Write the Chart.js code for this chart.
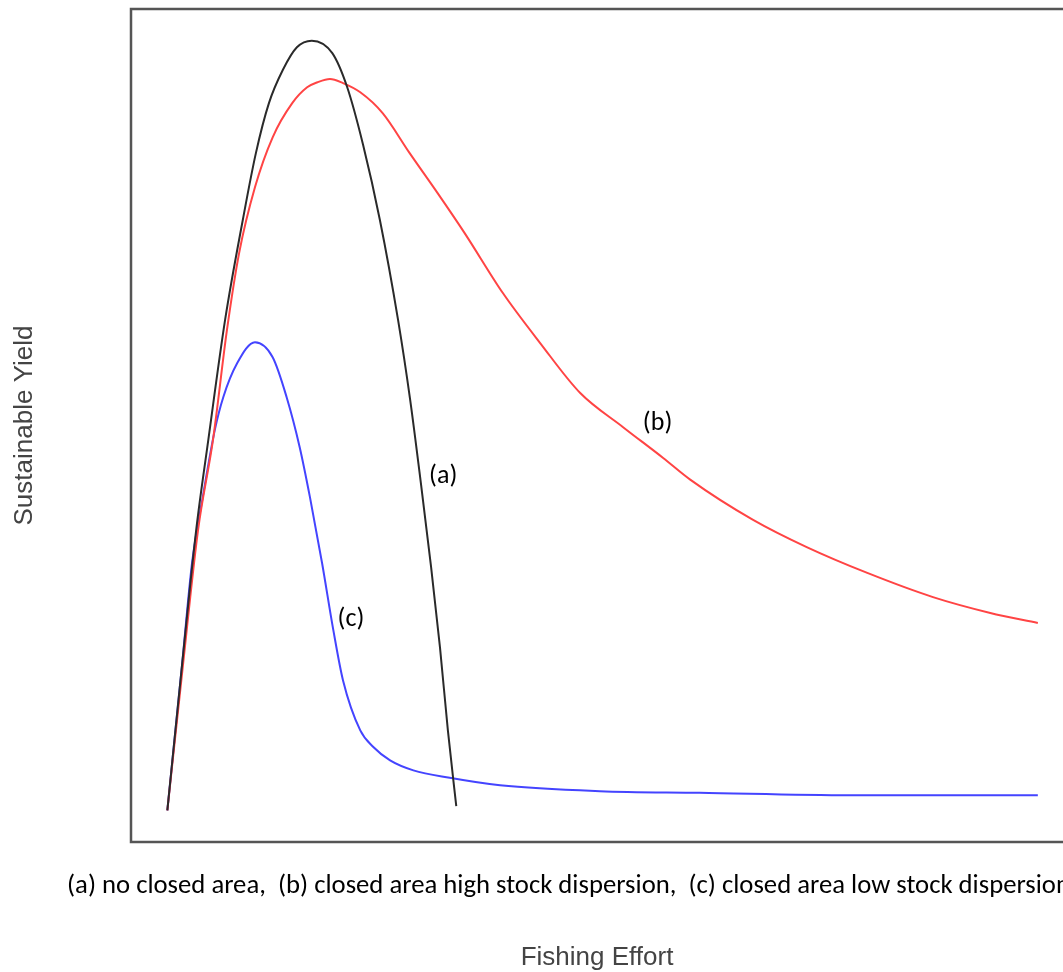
<!DOCTYPE html>
<html>
<head>
<meta charset="utf-8">
<script src="https://cdn.jsdelivr.net/npm/chart.js@4.4.1/dist/chart.umd.min.js"></script>
<style>
  html, body { margin: 0; padding: 0; background: #ffffff; overflow: hidden; }
  #wrap { width: 1063px; height: 972px; position: relative; }
</style>
</head>
<body>
<div id="wrap"><canvas id="c" width="1063" height="972"></canvas></div>
<script>
// Fishing effort (x) and sustainable yield (y)
const effortA = [3.9, 5.5, 7.0, 8.3, 10.1, 12.0, 13.4, 14.8, 16.3, 17.8, 19.4, 21.6, 23.2, 24.9, 26.7, 28.65, 29.95, 31.1, 32.2, 33.15, 34.0, 34.9];
const yieldA  = [3.8, 21.5, 37.5, 48.3, 62.7, 74.7, 82.7, 88.7, 92.7, 95.4, 96.2, 94.7, 90.6, 83.7, 74.7, 62.7, 53.1, 43.1, 33.0, 23.4, 13.4, 4.3];

const effortB = [3.9, 5.6, 7.2, 8.8, 10.3, 11.6, 13.3, 15.2, 17.3, 18.9, 20.0, 21.35, 22.75, 24.6, 27.0, 29.9, 32.9, 35.8, 39.9, 43.9, 48.2, 52.8, 57.1, 60.0, 66.7, 72.5, 79.0, 86.05, 92.2, 97.3];
const yieldB  = [3.8, 21.5, 37.5, 48.3, 61.5, 70.7, 78.6, 84.6, 88.7, 90.6, 91.2, 91.6, 91.1, 90.0, 87.5, 82.7, 77.9, 73.1, 65.9, 59.9, 53.9, 49.8, 46.1, 43.5, 38.7, 35.4, 32.3, 29.4, 27.5, 26.3];

const effortC = [3.9, 5.5, 6.55, 7.7, 9.0, 9.9, 11.4, 13.3, 15.2, 16.7, 18.1, 19.2, 20.5, 21.7, 22.75, 24.6, 26.0, 27.8, 30.3, 34.2, 39.6, 50.3, 61.0, 77.2, 97.3];
const yieldC  = [3.8, 21.5, 33.5, 41.4, 49.5, 53.4, 57.5, 60.0, 58.2, 53.4, 47.4, 41.4, 33.5, 25.5, 19.4, 13.4, 11.4, 9.8, 8.6, 7.7, 6.8, 6.1, 5.9, 5.6, 5.6];

const curveLabels = ["(a)", "(b)", "(c)"];
const labelEffort = [33.5, 56.5, 23.6];
const labelYield  = [43.9, 50.2, 26.7];

const captionText = "(a) no closed area,  (b) closed area high stock dispersion,  (c) closed area low stock dispersion";
const xTitle = "Fishing Effort";
const yTitle = "Sustainable Yield";

const toPoints = (xs, ys) => xs.map((x, i) => ({ x: x, y: ys[i] }));

const annotPlugin = {
  id: 'annot',
  beforeDatasetsDraw(chart) {
    const { ctx, chartArea } = chart;
    ctx.save();
    ctx.strokeStyle = '#555555';
    ctx.lineWidth = 2.5;
    ctx.beginPath();
    ctx.moveTo(chart.width + 5, chartArea.top);
    ctx.lineTo(chartArea.left, chartArea.top);
    ctx.lineTo(chartArea.left, chartArea.bottom);
    ctx.lineTo(chart.width + 5, chartArea.bottom);
    ctx.stroke();
    ctx.restore();
  },
  afterDatasetsDraw(chart) {
    const { ctx, chartArea, scales } = chart;
    ctx.save();
    ctx.fillStyle = '#000000';
    ctx.font = '26px Carlito, Lato, "Open Sans", sans-serif';
    ctx.textAlign = 'center';
    ctx.textBaseline = 'middle';
    curveLabels.forEach((t, i) => {
      ctx.fillText(t, scales.x.getPixelForValue(labelEffort[i]), scales.y.getPixelForValue(labelYield[i]));
    });
    ctx.font = '26.7px Carlito, Lato, "Open Sans", sans-serif';
    ctx.textAlign = 'left';
    ctx.fillText(captionText, 67, chartArea.bottom + 44);
    ctx.restore();
  }
};

new Chart(document.getElementById('c'), {
  type: 'line',
  data: {
    datasets: [
      { label: '(a)', data: toPoints(effortA, yieldA), borderColor: '#2a2a2a', borderWidth: 2 },
      { label: '(b)', data: toPoints(effortB, yieldB), borderColor: '#ff4444', borderWidth: 2 },
      { label: '(c)', data: toPoints(effortC, yieldC), borderColor: '#4444ff', borderWidth: 2 }
    ]
  },
  options: {
    responsive: false,
    animation: false,
    events: [],
    layout: { padding: { top: 9, right: 0, left: 0, bottom: 0 } },
    elements: {
      point: { radius: 0 },
      line: { cubicInterpolationMode: 'monotone', fill: false }
    },
    plugins: { legend: { display: false }, tooltip: { enabled: false } },
    scales: {
      x: {
        type: 'linear', min: 0, max: 100,
        ticks: { display: false },
        grid: { display: false },
        border: { display: false },
        afterFit: (s) => { s.height = 130; },
        title: {
          display: true, text: xTitle, color: '#444444',
          font: { family: '"Liberation Sans", Arial, sans-serif', size: 26, lineHeight: 1 },
          padding: { top: 0, bottom: 1 }
        }
      },
      y: {
        type: 'linear', min: 0, max: 100,
        ticks: { display: false },
        grid: { display: false },
        border: { display: false },
        afterFit: (s) => { s.width = 131; },
        title: {
          display: true, text: yTitle, color: '#444444',
          font: { family: '"Liberation Sans", Arial, sans-serif', size: 26, lineHeight: 1 },
          padding: { top: 12, bottom: 0 }
        }
      }
    }
  },
  plugins: [annotPlugin]
});
</script>
</body>
</html>
